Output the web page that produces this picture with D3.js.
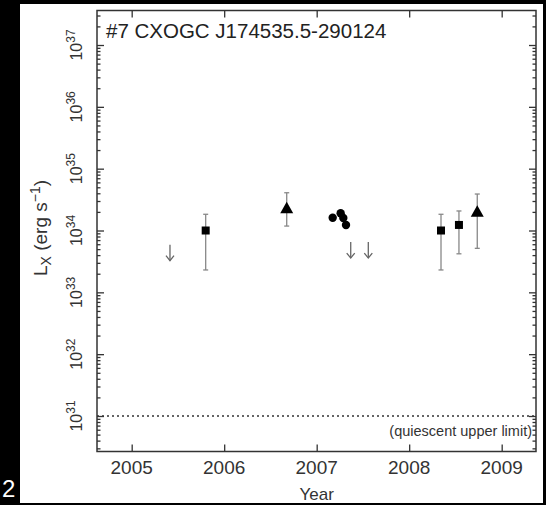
<!DOCTYPE html>
<html><head><meta charset="utf-8">
<script src="https://cdn.jsdelivr.net/npm/d3@7"></script>
<style>html,body{margin:0;padding:0;background:#000;}svg{display:block;}</style>
</head><body>
<script>
// ---- data ----
const xTicks = [2005, 2006, 2007, 2008, 2009];
const yTicks = [31, 32, 33, 34, 35, 36, 37];
const squareYear = [2005.80, 2008.344, 2008.538];
const squareLx   = [1.0e34, 1.0e34, 1.23e34];
const squareLo   = [2.3e33, 2.3e33, 4.2e33];
const squareHi   = [1.83e34, 1.83e34, 2.07e34];
const triYear = [2006.676, 2008.736];
const triLx   = [2.29e34, 2.01e34];
const triLo   = [1.18e34, 5.15e33];
const triHi   = [4.08e34, 3.89e34];
const circYear = [2007.173, 2007.259, 2007.288, 2007.317];
const circLx   = [1.61e34, 1.90e34, 1.59e34, 1.23e34];
const ulYear = [2005.414, 2007.368, 2007.558];
const ulLx   = [5.9e33, 6.5e33, 6.5e33];
const quiescent = 1e31;
const title = "#7 CXOGC J174535.5-290124";

// ---- layout ----
const W = 546, H = 505;
const L = 97, R = 536, T = 10.5, B = 451.5;
const svg = d3.select("body").append("svg").attr("width", W).attr("height", H);
svg.append("rect").attr("width", W).attr("height", H).attr("fill", "#000");
svg.append("rect").attr("x", 20).attr("y", 4).attr("width", 523).attr("height", 499).attr("fill", "#fff");

const x = d3.scaleLinear().domain([2004.625, 2009.371]).range([L, R]);
const y = d3.scaleLog().domain([Math.pow(10, 30.426), Math.pow(10, 37.558)]).range([B, T]);

const axisCol = "#333";
const font = "'Liberation Sans', Arial, Helvetica, sans-serif";

// minor ticks
const minor = [];
for (let e = 30; e <= 37; e++) for (let m = 2; m <= 9; m++) {
  const v = m * Math.pow(10, e);
  if (v >= y.domain()[0] && v <= y.domain()[1]) minor.push(v);
}
const majors = yTicks.map(e => Math.pow(10, e));

// left axis (ticks inward)
const gL = svg.append("g").attr("transform", `translate(${L},0)`);
gL.call(d3.axisRight(y).tickValues(majors).tickSize(7).tickFormat(""));
gL.append("g").call(d3.axisRight(y).tickValues(minor).tickSize(3.5).tickFormat(""));
// right axis
const gR = svg.append("g").attr("transform", `translate(${R},0)`);
gR.call(d3.axisLeft(y).tickValues(majors).tickSize(7).tickFormat(""));
gR.append("g").call(d3.axisLeft(y).tickValues(minor).tickSize(3.5).tickFormat(""));
// bottom axis
const gB = svg.append("g").attr("transform", `translate(0,${B})`);
gB.call(d3.axisTop(x).tickValues(xTicks).tickSize(7).tickFormat(""));
// top axis
const gT = svg.append("g").attr("transform", `translate(0,${T})`);
gT.call(d3.axisBottom(x).tickValues(xTicks).tickSize(7).tickFormat(""));

svg.selectAll(".domain").remove();
svg.selectAll(".tick line").attr("stroke", axisCol).attr("stroke-width", 1.3);
svg.append("rect").attr("x", L).attr("y", T).attr("width", R - L).attr("height", B - T)
  .attr("fill", "none").attr("stroke", axisCol).attr("stroke-width", 1.5);

// x tick labels
svg.append("g").selectAll("text").data(xTicks).join("text")
  .attr("x", d => x(d)).attr("y", 474).attr("text-anchor", "middle")
  .attr("font-family", font).attr("font-size", 19).attr("fill", "#333").text(d => d);

// y tick labels (rotated)
const yl = svg.append("g").selectAll("text").data(yTicks).join("text")
  .attr("transform", d => `translate(82,${y(Math.pow(10, d))}) rotate(-90)`)
  .attr("text-anchor", "middle").attr("font-family", font).attr("font-size", 16).attr("fill", "#333");
yl.append("tspan").text("10");
yl.append("tspan").attr("dy", -7).attr("font-size", 12).text(d => d);

// axis titles
const yt = svg.append("text").attr("transform", `translate(47,228) rotate(-90)`)
  .attr("text-anchor", "middle").attr("font-family", font).attr("font-size", 19).attr("fill", "#333");
yt.append("tspan").text("L");
yt.append("tspan").attr("dy", 4).attr("font-size", 14).text("X");
yt.append("tspan").attr("dy", -4).text(" (erg s");
yt.append("tspan").attr("dy", -7).attr("font-size", 14).text("−1");
yt.append("tspan").attr("dy", 7).text(")");

svg.append("text").attr("x", x(2007)).attr("y", 500).attr("text-anchor", "middle")
  .attr("font-family", font).attr("font-size", 17).attr("fill", "#333").text("Year");

// title
svg.append("text").attr("x", 106).attr("y", 38).attr("font-family", font)
  .attr("font-size", 20.5).attr("fill", "#222").text(title);

// quiescent line
svg.append("line").attr("x1", L).attr("x2", R).attr("y1", y(quiescent)).attr("y2", y(quiescent))
  .attr("stroke", "#333").attr("stroke-width", 1.5).attr("stroke-dasharray", "2,3");
svg.append("text").attr("x", R - 4).attr("y", 436).attr("text-anchor", "end")
  .attr("font-family", font).attr("font-size", 14.5).attr("fill", "#333").text("(quiescent upper limit)");

// error bars
const errCol = "#888";
function errBars(xs, lo, hi) {
  const g = svg.append("g").attr("stroke", errCol).attr("stroke-width", 1.3);
  xs.forEach((xv, i) => {
    g.append("line").attr("x1", x(xv)).attr("x2", x(xv)).attr("y1", y(lo[i])).attr("y2", y(hi[i]));
    [lo[i], hi[i]].forEach(v => g.append("line").attr("x1", x(xv) - 2.5).attr("x2", x(xv) + 2.5)
      .attr("y1", y(v)).attr("y2", y(v)));
  });
}
errBars(squareYear, squareLo, squareHi);
errBars(triYear, triLo, triHi);

// squares
svg.append("g").selectAll("rect").data(squareYear).join("rect")
  .attr("x", d => x(d) - 4).attr("y", (d, i) => y(squareLx[i]) - 4)
  .attr("width", 8).attr("height", 8).attr("fill", "#000");
// triangles
svg.append("g").selectAll("path").data(triYear).join("path")
  .attr("transform", (d, i) => `translate(${x(d)},${y(triLx[i])})`)
  .attr("d", "M0,-6.5L6.5,5L-6.5,5Z").attr("fill", "#000");
// circles
svg.append("g").selectAll("circle").data(circYear).join("circle")
  .attr("cx", d => x(d)).attr("cy", (d, i) => y(circLx[i])).attr("r", 4.2).attr("fill", "#000");
// upper limit arrows
const ag = svg.append("g").attr("stroke", "#666").attr("stroke-width", 1.3).attr("fill", "none");
ulYear.forEach((xv, i) => {
  const px = x(xv), py = y(ulLx[i]);
  ag.append("line").attr("x1", px).attr("x2", px).attr("y1", py).attr("y2", py + 16);
  ag.append("path").attr("d", `M${px - 4},${py + 11}L${px},${py + 16}L${px + 4},${py + 11}`);
});

// cropped panel label & border
svg.append("rect").attr("x", 0).attr("y", 503).attr("width", W).attr("height", 2).attr("fill", "#000");
svg.append("text").attr("x", 2).attr("y", 497).attr("font-family", font).attr("font-size", 24)
  .attr("fill", "#fff").text("2");
</script>
</body></html>
